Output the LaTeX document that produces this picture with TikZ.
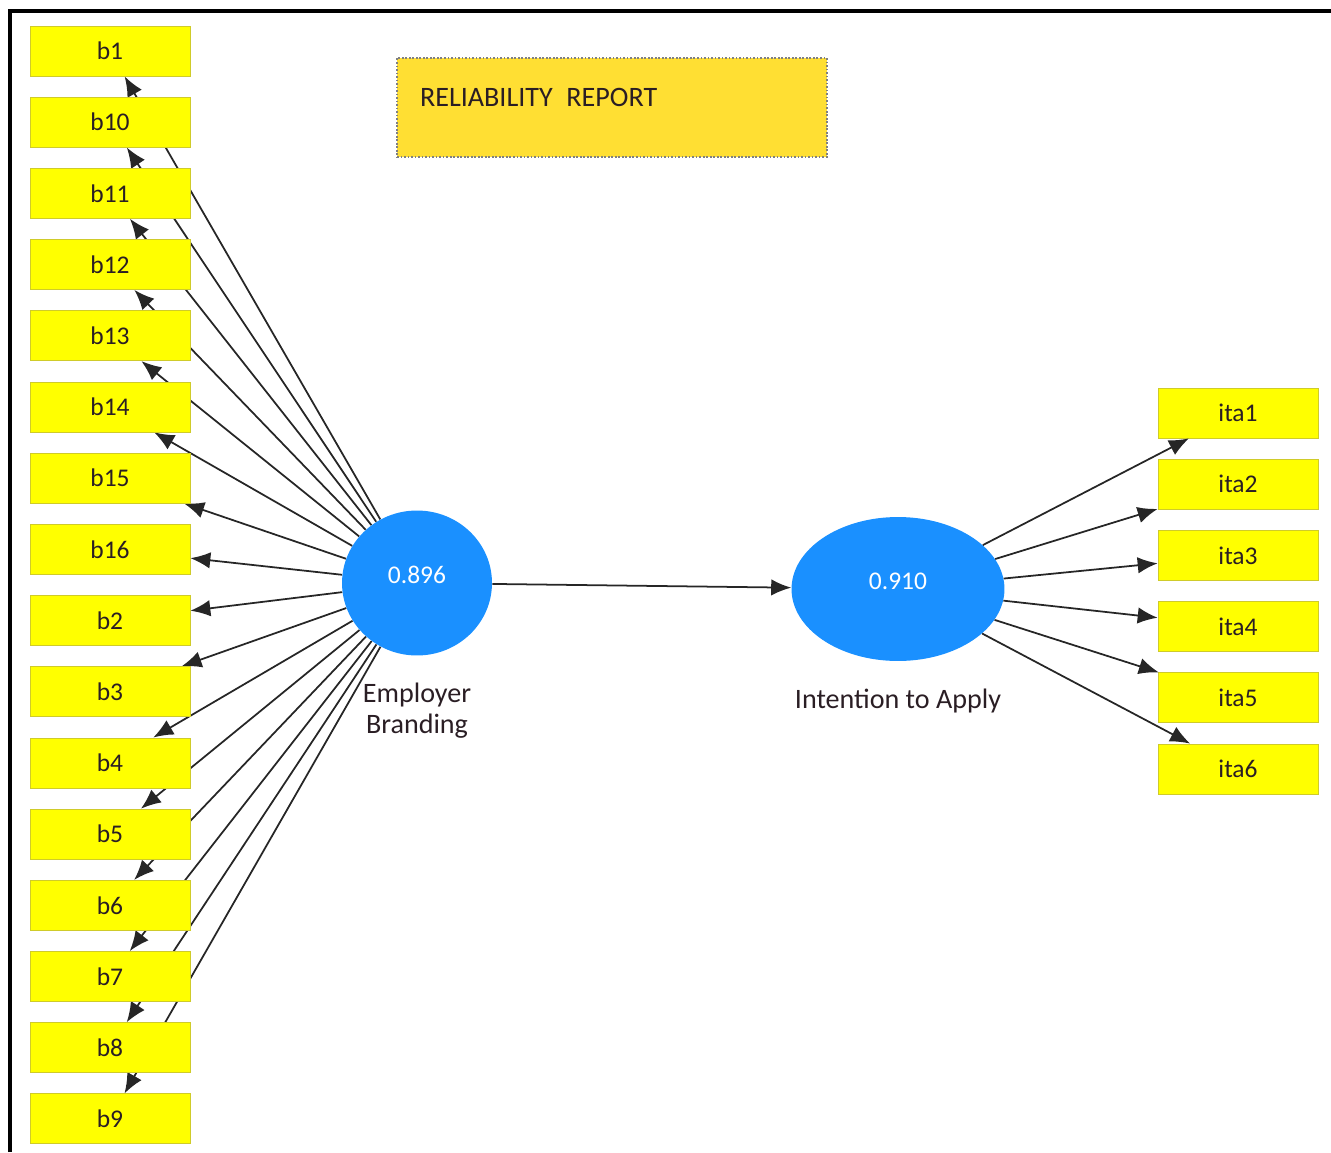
\documentclass[tikz,border=0pt]{standalone}
\usepackage{fontspec}
\setmainfont{Carlito}
\usetikzlibrary{arrows.meta,positioning,shapes.geometric,backgrounds}
\definecolor{boxyellow}{HTML}{FFFF00}
\definecolor{boxedge}{HTML}{CFCB2A}
\definecolor{lvblue}{HTML}{1A90FF}
\definecolor{gold}{HTML}{FFDF33}
\definecolor{ink}{HTML}{2A1E24}

\begin{document}
\begin{tikzpicture}[
      x=0.02cm, y=-0.02cm,
      indicator/.style={
        draw=boxedge, fill=boxyellow, text=ink, inner sep=0pt,
        minimum width=3.2cm, minimum height=1cm,
        font=\fontsize{14.5}{16}\selectfont
      },
      latent/.style={
        ellipse, fill=lvblue, text=white, inner sep=0pt, text depth=3.2mm,
        font=\fontsize{14.5}{17}\selectfont
      },
      lvname/.style={
        text=ink, align=center, inner sep=0pt,
        font=\fontsize{16}{17.5}\selectfont
      },
      report/.style={
        draw=black!50, densely dotted, line width=1pt, fill=gold,
        text=ink, align=left, text width=7.68cm, inner xsep=4.6mm,
        minimum height=1.98cm, text depth=4.2mm,
        font=\fontsize{16}{19}\selectfont
      },
      rel/.style={-{Latex[length=4mm,width=3.3mm]}, line width=1pt, draw=black!85},
      node distance=4.1mm
    ]
    \useasboundingbox (0,0) rectangle (1331,1152);
    \draw[line width=2.3pt] (10,1152) -- (10,11) -- (1331,11);

    \node[report] (report) at (612,107.5) {RELIABILITY\ \hspace{0.15em}REPORT};

    % outer model: employer branding
    \node[indicator] (b1) at (110,51) {b1};
    \node[indicator, below=of b1] (b10) {b10};
    \node[indicator, below=of b10] (b11) {b11};
    \node[indicator, below=of b11] (b12) {b12};
    \node[indicator, below=of b12] (b13) {b13};
    \node[indicator, below=of b13] (b14) {b14};
    \node[indicator, below=of b14] (b15) {b15};
    \node[indicator, below=of b15] (b16) {b16};
    \node[indicator, below=of b16] (b2) {b2};
    \node[indicator, below=of b2] (b3) {b3};
    \node[indicator, below=of b3] (b4) {b4};
    \node[indicator, below=of b4] (b5) {b5};
    \node[indicator, below=of b5] (b6) {b6};
    \node[indicator, below=of b6] (b7) {b7};
    \node[indicator, below=of b7] (b8) {b8};
    \node[indicator, below=of b8] (b9) {b9};

    % outer model: intention to apply
    \node[indicator] (ita1) at (1238,413) {ita1};
    \node[indicator, below=of ita1] (ita2) {ita2};
    \node[indicator, below=of ita2] (ita3) {ita3};
    \node[indicator, below=of ita3] (ita4) {ita4};
    \node[indicator, below=of ita4] (ita5) {ita5};
    \node[indicator, below=of ita5] (ita6) {ita6};

    \node[latent, minimum width=3cm, minimum height=2.9cm] (eb) at (417,583) {0.896};
    \node[latent, minimum width=4.26cm, minimum height=2.88cm] (ita) at (898,589) {0.910};
    \node[lvname, below=5.4mm of eb] (ebname) {Employer\\Branding};
    \node[lvname, below=5.4mm of ita] (itaname) {Intention to Apply};

    \begin{pgfonlayer}{background}
      \draw[rel] (eb) -- (b1);
      \draw[rel] (eb) -- (b10);
      \draw[rel] (eb) -- (b11);
      \draw[rel] (eb) -- (b12);
      \draw[rel] (eb) -- (b13);
      \draw[rel] (eb) -- (b14);
      \draw[rel] (eb) -- (b15);
      \draw[rel] (eb) -- (b16);
      \draw[rel] (eb) -- (b2);
      \draw[rel] (eb) -- (b3);
      \draw[rel] (eb) -- (b4);
      \draw[rel] (eb) -- (b5);
      \draw[rel] (eb) -- (b6);
      \draw[rel] (eb) -- (b7);
      \draw[rel] (eb) -- (b8);
      \draw[rel] (eb) -- (b9);
    \end{pgfonlayer}

    \draw[rel] (eb) -- (ita);
    \draw[rel] (ita) -- (ita1);
    \draw[rel] (ita) -- (ita2);
    \draw[rel] (ita) -- (ita3);
    \draw[rel] (ita) -- (ita4);
    \draw[rel] (ita) -- (ita5);
    \draw[rel] (ita) -- (ita6);
  \end{tikzpicture}
\end{document}
